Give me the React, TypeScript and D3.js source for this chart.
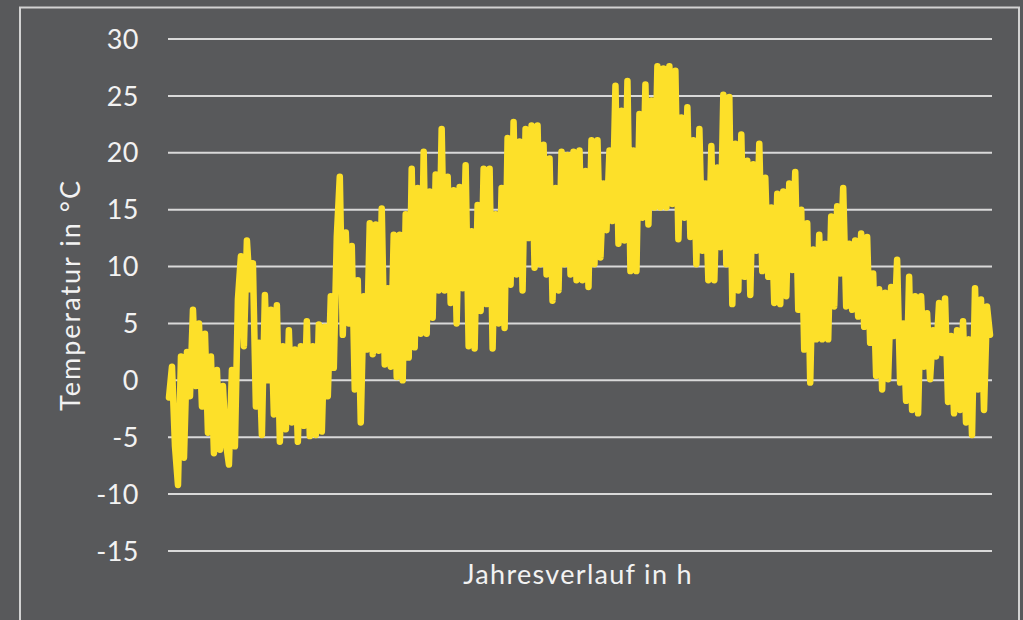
import React from "react";
import * as d3 from "d3";

const yTicks: number[] = [30, 25, 20, 15, 10, 5, 0, -5, -10, -15];
const yTitle = "Temperatur in °C";
const xTitle = "Jahresverlauf in h";

// Hourly temperature over the year (alternating daily highs / lows)
const temperatures: number[] = [
  -1.5, 1.2, -5.8, -9.2, 2.1, -6.8, 2.5, -1.4, 6.2, -0.5,
  5, -2.3, 4.1, -4.6, 2.1, -6.4, 0.9, -6.1, -0.5, -5.5,
  -7.4, 0.9, -5.8, 7.1, 10.9, 3, 12.3, 8, 10.3, -2.3,
  3.3, -4.8, 7.5, 0, 6.2, -3, 6.6, -5.4, 3, -4.3,
  4.4, -3.7, 2.7, -5.4, 3, -4, 5.2, -4.9, 3, -4.8,
  4.9, -4.5, 4.7, -1.4, 7.4, 1.1, 12.6, 17.9, 4, 13,
  5, 11.8, -0.8, 8.8, -3.7, 7.4, 2.7, 13.8, 2.3, 13.7,
  2.6, 15.1, 1.4, 8.1, 1.2, 12.8, 0.3, 12.8, 0, 14.6,
  2, 18.6, 2.9, 16.9, 4.1, 20.1, 4.1, 16.6, 5.5, 18.1,
  7.9, 22.1, 7.9, 17.9, 6.8, 16.7, 5, 17, 8.1, 18.9,
  3, 13.1, 2.8, 15.4, 6.1, 18.6, 6.7, 18.6, 2.8, 14.6,
  5, 16.9, 4.6, 21.3, 8.4, 22.7, 9.3, 21, 7.9, 22.1,
  12.5, 22.4, 9.9, 22.4, 10.2, 20.7, 9.3, 19.5, 7, 16.9,
  7.9, 20.1, 10.2, 19.8, 9.3, 20.1, 8.8, 20.2, 8.8, 18.4,
  8.2, 21.1, 10.2, 21.1, 10.8, 17.3, 13.2, 20.2, 14, 25.9,
  12, 23.7, 12.3, 26.3, 9.6, 20.2, 9.6, 23.4, 14.3, 26,
  13.7, 24.6, 15.2, 27.6, 15.2, 27.4, 15.2, 27.6, 15.5, 27.2,
  12.4, 23.1, 14.3, 24, 12.6, 21.1, 10.2, 22.1, 11.4, 17.3,
  8.8, 20.6, 8.8, 18.7, 11.7, 25.1, 10.2, 24.9, 6.7, 20.8,
  7.9, 21.6, 9.1, 19.3, 7.5, 19, 11.4, 20.8, 9.6, 17.8,
  9.1, 15.2, 6.8, 16.4, 6.7, 16.6, 7.4, 17.3, 9.7, 18.3,
  6.2, 15, 2.7, 13.8, -0.2, 11.5, 3.6, 12.8, 3.6, 12,
  3.6, 14.4, 6.5, 15.3, 9.4, 16.9, 6.5, 12, 6.2, 12.3,
  5.6, 12.9, 4.7, 12.6, 3.3, 9.4, 0.4, 8, -0.8, 7.7,
  0.1, 8.2, 3.9, 10.6, -0.2, 5, -1.8, 9.1, -2.6, 7.4,
  -2.9, 7.4, 1.2, 5.9, 0.1, 4.4, 2.1, 6.8, 2.4, 7.2,
  -1.9, 3.9, -2.9, 4.4, -2.6, 5.2, -3.7, 3.6, -4.8, 8.1,
  -0.8, 7.1, -2.6, 6.5, 4,
];

const W = 1023;
const H = 620;
const BG = "#58595b";
const GRID = "#d9d9d9";
const TEXT = "#f2f2f2";
const LINE = "#fde029";
const FONT = "Lato, 'Open Sans', sans-serif";

export default function App() {
  const x = d3.scaleLinear().domain([0, temperatures.length - 1]).range([169, 990]);
  const y = d3.scaleLinear().domain([-15, 30]).range([551, 39]);
  const line = d3
    .line<number>()
    .x((_, i) => x(i))
    .y((d) => y(d));

  return (
    <svg
      width={W}
      height={H}
      style={{ position: "absolute", left: 0, top: 0, display: "block" }}
      fontFamily={FONT}
    >
      <rect x={0} y={0} width={W} height={H} fill={BG} />
      <rect x={20} y={7.5} width={999} height={H + 20} fill="none" stroke="#d2d2d2" strokeWidth={2} />
      {yTicks.map((t) => (
        <g key={t}>
          <line x1={168} x2={992} y1={y(t)} y2={y(t)} stroke={GRID} strokeWidth={2} />
          <text x={139} y={y(t)} dy="0.36em" textAnchor="end" fill={TEXT} fontSize={27} letterSpacing={0.5}>
            {t}
          </text>
        </g>
      ))}
      <path
        d={line(temperatures) || ""}
        fill="none"
        stroke={LINE}
        strokeWidth={6.5}
        strokeLinejoin="round"
        strokeLinecap="round"
      />
      <text x={578} y={584} textAnchor="middle" fill={TEXT} fontSize={27} letterSpacing={1.3}>
        {xTitle}
      </text>
      <text
        transform="translate(80,295) rotate(-90)"
        textAnchor="middle"
        fill={TEXT}
        fontSize={27}
        letterSpacing={2}
      >
        {yTitle}
      </text>
    </svg>
  );
}
